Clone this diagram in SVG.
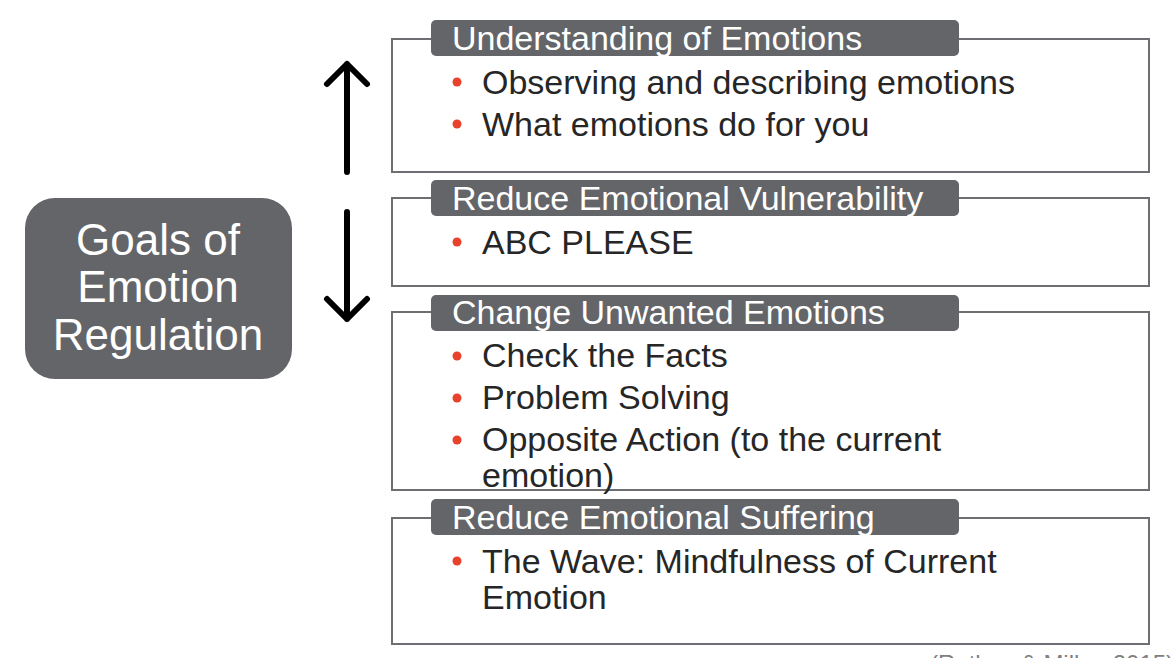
<svg xmlns="http://www.w3.org/2000/svg" width="1176" height="658" viewBox="0 0 1176 658">
<style>
.box{fill:#fff;stroke:#6d6e71;stroke-width:2}
.hdr{fill:#646569}
.ht{font-family:"Liberation Sans",Arial,sans-serif;font-size:34px;fill:#fff}
.bt{font-family:"Liberation Sans",Arial,sans-serif;font-size:34px;fill:#262626}
.dot{fill:#e8412c}
.arr{fill:none;stroke:#000;stroke-width:6;stroke-linecap:round;stroke-linejoin:round}
.main{fill:#646569}
.mt{font-family:"Liberation Sans",Arial,sans-serif;font-size:44px;fill:#fff;text-anchor:middle}
</style>
<rect width="1176" height="658" fill="#fff"/>
<g id="goals">
<rect class="main" x="25" y="198" width="267" height="181" rx="30"/>
<text class="mt" x="158" y="255">Goals of</text>
<text class="mt" x="158" y="302">Emotion</text>
<text class="mt" x="158" y="350">Regulation</text>
</g>
<g id="connectors">
<path class="arr" d="M347 172 V64 M327 84 L347 64 L367 84"/>
<path class="arr" d="M347 212 V319 M327 299 L347 319 L367 299"/>
</g>
<g id="understanding">
<rect class="box" x="392" y="39" width="757" height="133"/>
<rect class="hdr" x="431" y="20" width="528" height="36" rx="5"/>
<text class="ht" x="452" y="50">Understanding of Emotions</text>
<circle class="dot" cx="457" cy="82" r="4.5"/>
<text class="bt" x="482" y="94">Observing and describing emotions</text>
<circle class="dot" cx="457" cy="124" r="4.5"/>
<text class="bt" x="482" y="136">What emotions do for you</text>
</g>
<g id="vulnerability">
<rect class="box" x="392" y="198" width="757" height="88"/>
<rect class="hdr" x="431" y="180" width="528" height="36" rx="5"/>
<text class="ht" x="452" y="210">Reduce Emotional Vulnerability</text>
<circle class="dot" cx="457" cy="242" r="4.5"/>
<text class="bt" x="482" y="254">ABC PLEASE</text>
</g>
<g id="change">
<rect class="box" x="392" y="312" width="757" height="178"/>
<rect class="hdr" x="431" y="295" width="528" height="36" rx="5"/>
<text class="ht" x="452" y="324">Change Unwanted Emotions</text>
<circle class="dot" cx="457" cy="356" r="4.5"/>
<text class="bt" x="482" y="367">Check the Facts</text>
<circle class="dot" cx="457" cy="398" r="4.5"/>
<text class="bt" x="482" y="409">Problem Solving</text>
<circle class="dot" cx="457" cy="440" r="4.5"/>
<text class="bt" x="482" y="451">Opposite Action (to the current</text>
<text class="bt" x="482" y="487">emotion)</text>
</g>
<g id="suffering">
<rect class="box" x="392" y="518" width="757" height="126"/>
<rect class="hdr" x="431" y="499" width="528" height="36" rx="5"/>
<text class="ht" x="452" y="529">Reduce Emotional Suffering</text>
<circle class="dot" cx="457" cy="561" r="4.5"/>
<text class="bt" x="482" y="573">The Wave: Mindfulness of Current</text>
<text class="bt" x="482" y="609">Emotion</text>
</g>
<text x="930" y="672" font-family="Liberation Sans, Arial, sans-serif" font-size="24" fill="#7f7f7f">(Rathus &amp; Miller, 2015)</text>
</svg>
